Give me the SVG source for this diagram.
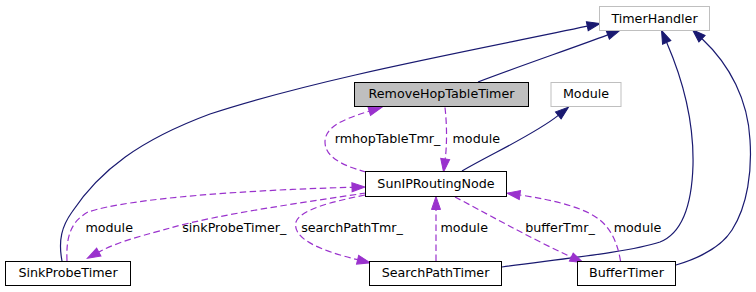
<svg xmlns="http://www.w3.org/2000/svg" width="756" height="292" viewBox="0 0 756 292">
  <style>
    .node rect { stroke-width: 1; }
    .doc rect { fill: #ffffff; stroke: #000000; }
    .undoc rect { fill: #ffffff; stroke: #bfbfbf; }
    .focus rect { fill: #bfbfbf; stroke: #000000; }
    text { font-family: "DejaVu Sans", "Liberation Sans", sans-serif; font-size: 12.7px; fill: #000000; text-anchor: middle; }
    .inherit { fill: none; stroke: #191970; stroke-width: 1.2; marker-end: url(#headNavy); }
    .usage { fill: none; stroke: #9a32cd; stroke-width: 1.2; stroke-dasharray: 6.5,3.5; marker-end: url(#headPurple); }
  </style>
  <defs>
    <marker id="headNavy" viewBox="0 0 13 9" refX="0" refY="4.5" markerWidth="13" markerHeight="9" markerUnits="userSpaceOnUse" orient="auto" overflow="visible">
      <path d="M0,0 L13,4.5 L0,9 Z" fill="#191970" stroke="#191970" stroke-width="1"/>
    </marker>
    <marker id="headPurple" viewBox="0 0 13 9" refX="0" refY="4.5" markerWidth="13" markerHeight="9" markerUnits="userSpaceOnUse" orient="auto" overflow="visible">
      <path d="M0,0 L13,4.5 L0,9 Z" fill="#9a32cd" stroke="#9a32cd" stroke-width="1" stroke-dasharray="none"/>
    </marker>
  </defs>

  <rect x="0" y="0" width="756" height="292" fill="#ffffff"/>

  <!-- connectors -->
  <g id="edges">
    <!-- inheritance -->
    <path class="inherit" d="M62,261 C58,240 62,226 72,212 C100,170 140,140 210,114 C320,78 470,51 587.3,26.2"/>
    <path class="inherit" d="M478,82 C520,66 570,49 607.8,34.9"/>
    <path class="inherit" d="M502,267 C560,259 630,252 660,242 C685,232 692,200 693,165 C694,120 683,80 666.7,42.4"/>
    <path class="inherit" d="M676,265 C700,258 722,246 732,230 C748,205 752,170 750,140 C748,100 730,65 702,38.7"/>
    <path class="inherit" d="M462,171 C495,152 535,134 558.3,115.4"/>

    <!-- usage -->
    <path class="usage" d="M366,172 C340,165 325,156 325,142 C325,128 340,120 369.2,111.2"/>
    <path class="usage" d="M445,107.5 C447,125 447,145 445.2,159"/>
    <path class="usage" d="M67,261 C66,238 70,222 88,212 C130,198 250,190 352,187.3"/>
    <path class="usage" d="M366,193 C300,203 220,214 170,228 C150,234 121,240 98.8,252.1"/>
    <path class="usage" d="M365,195 C330,202 300,210 296,222 C292,238 318,250 357.6,259.7"/>
    <path class="usage" d="M436,261 L436,209.5"/>
    <path class="usage" d="M455,197 C480,210 530,238 571.3,257.1"/>
    <path class="usage" d="M620.5,261 C618,245 612,230 600,220 C585,208 555,200 519.9,195"/>

    <!-- labels -->
    <text x="387.5" y="143.3">rmhopTableTmr_</text>
    <text x="476.3" y="143.3">module</text>
    <text x="109.2" y="232.4">module</text>
    <text x="234.2" y="232.4">sinkProbeTimer_</text>
    <text x="352" y="232.4">searchPathTmr_</text>
    <text x="464.2" y="232.4">module</text>
    <text x="560" y="232.4">bufferTmr_</text>
    <text x="637.5" y="232.4">module</text>
  </g>

  <!-- nodes -->
  <g id="TimerHandler" class="node undoc">
    <rect x="599.5" y="6.5" width="110" height="24"/>
    <text x="654.5" y="22.6">TimerHandler</text>
  </g>
  <g id="RemoveHopTableTimer" class="node focus">
    <rect x="354.5" y="82.5" width="174" height="24"/>
    <text x="441.5" y="98.3">RemoveHopTableTimer</text>
  </g>
  <g id="Module" class="node undoc">
    <rect x="551" y="82.5" width="70" height="24"/>
    <text x="586" y="98.3">Module</text>
  </g>
  <g id="SunIPRoutingNode" class="node doc">
    <rect x="365.5" y="171.5" width="141" height="25"/>
    <text x="436" y="187.6">SunIPRoutingNode</text>
  </g>
  <g id="SinkProbeTimer" class="node doc">
    <rect x="5.5" y="261.5" width="125" height="24"/>
    <text x="68" y="277.3">SinkProbeTimer</text>
  </g>
  <g id="SearchPathTimer" class="node doc">
    <rect x="369.5" y="261.5" width="132" height="24"/>
    <text x="435.5" y="277.3">SearchPathTimer</text>
  </g>
  <g id="BufferTimer" class="node doc">
    <rect x="577.5" y="261.5" width="98" height="24"/>
    <text x="626.5" y="277.3">BufferTimer</text>
  </g>
</svg>
